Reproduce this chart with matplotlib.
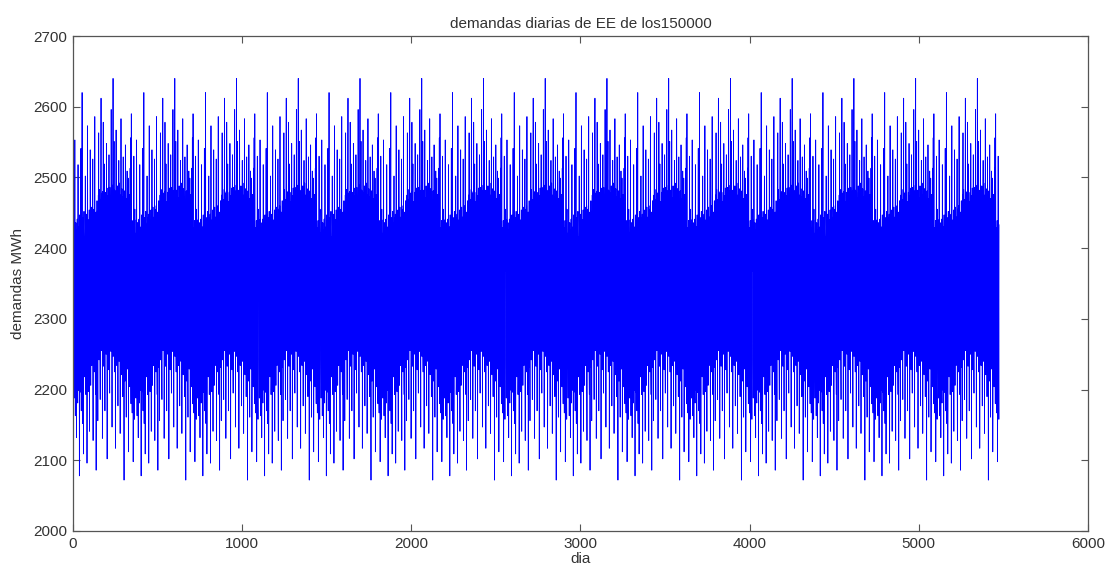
import numpy as np
import matplotlib
matplotlib.use("Agg")
import matplotlib.pyplot as plt

plt.rcParams["font.family"] = ["Liberation Sans", "DejaVu Sans"]

# One year of daily demand (MWh), one row per week (Mon..Sun), the last entry is day 365
year_profile = [
    2455, 2392, 2421, 2368, 2410, 2243, 2188,
    2398, 2440, 2375, 2553, 2417, 2219, 2163,
    2380, 2414, 2436, 2394, 2365, 2250, 2132,
    2426, 2370, 2405, 2441, 2388, 2207, 2181,
    2410, 2518, 2383, 2424, 2359, 2231, 2199,
    2391, 2430, 2078, 2413, 2447, 2196, 2214,
    2438, 2375, 2402, 2420, 2541, 2238, 2170,
    2386, 2421, 2367, 2434, 2620, 2212, 2152,
    2414, 2397, 2443, 2379, 2405, 2109, 2203,
    2429, 2452, 2390, 2416, 2371, 2246, 2218,
    2397, 2424, 2502, 2403, 2436, 2193, 2231,
    2443, 2385, 2412, 2448, 2396, 2096, 2223,
    2417, 2573, 2404, 2376, 2432, 2240, 2197,
    2389, 2440, 2426, 2407, 2454, 2253, 2141,
    2449, 2402, 2384, 2539, 2419, 2222, 2206,
    2411, 2435, 2458, 2394, 2378, 2234, 2240,
    2427, 2375, 2444, 2421, 2526, 2207, 2128,
    2403, 2455, 2392, 2439, 2413, 2249, 2225,
    2460, 2418, 2586, 2387, 2430, 2218, 2193,
    2435, 2406, 2451, 2086, 2424, 2260, 2231,
    2414, 2467, 2398, 2445, 2389, 2225, 2156,
    2452, 2429, 2475, 2408, 2563, 2267, 2242,
    2438, 2483, 2420, 2464, 2436, 2238, 2186,
    2469, 2415, 2456, 2492, 2612, 2255, 2260,
    2424, 2461, 2443, 2478, 2432, 2131, 2238,
    2480, 2449, 2425, 2578, 2467, 2273, 2233,
    2445, 2474, 2519, 2433, 2458, 2247, 2170,
    2466, 2428, 2463, 2447, 2479, 2258, 2250,
    2433, 2548, 2450, 2472, 2439, 2102, 2245,
    2474, 2453, 2436, 2485, 2460, 2265, 2228,
    2449, 2478, 2532, 2441, 2470, 2241, 2195,
    2486, 2445, 2464, 2456, 2432, 2270, 2254,
    2458, 2596, 2438, 2481, 2451, 2232, 2147,
    2442, 2476, 2463, 2489, 2454, 2640, 2247,
    2471, 2439, 2458, 2434, 2551, 2263, 2225,
    2447, 2482, 2455, 2470, 2443, 2117, 2256,
    2479, 2450, 2567, 2437, 2465, 2245, 2234,
    2453, 2471, 2434, 2488, 2456, 2268, 2177,
    2466, 2435, 2480, 2449, 2524, 2250, 2240,
    2440, 2492, 2453, 2467, 2428, 2138, 2259,
    2475, 2446, 2461, 2583, 2449, 2237, 2221,
    2448, 2484, 2439, 2455, 2473, 2272, 2190,
    2462, 2429, 2529, 2443, 2468, 2243, 2233,
    2072, 2460, 2447, 2481, 2435, 2256, 2212,
    2456, 2546, 2438, 2464, 2451, 2228, 2161,
    2470, 2441, 2465, 2432, 2509, 2248, 2229,
    2444, 2467, 2448, 2499, 2440, 2112, 2218,
    2459, 2434, 2476, 2445, 2458, 2237, 2204,
    2437, 2513, 2451, 2436, 2556, 2225, 2180,
    2415, 2590, 2393, 2426, 2402, 2200, 2167,
    2429, 2386, 2414, 2439, 2375, 2098, 2184,
    2398, 2423, 2530, 2390, 2417, 2211, 2158,
    2433,
]
n_years = 15

x_ticks = [0, 1000, 2000, 3000, 4000, 5000, 6000]
y_ticks = [2000, 2100, 2200, 2300, 2400, 2500, 2600, 2700]

# the same yearly profile repeats over the whole period
demand = np.tile(np.array(year_profile, dtype=float), n_years)
days = np.arange(1, len(demand) + 1)

fig = plt.figure(figsize=(11.14, 5.67), dpi=100)
ax = fig.add_axes([0.0655, 0.0635, 0.911, 0.873])

ax.plot(days, demand, color=(0, 0, 1), linewidth=0.6)

ax.set_xlim(0, 6000)
ax.set_ylim(2000, 2700)
ax.set_xticks(x_ticks)
ax.set_yticks(y_ticks)

ax.tick_params(direction="in", top=True, right=True, length=5, width=0.8,
               color="#555555", labelcolor="#333333", labelsize=11, pad=4)
for side in ax.spines.values():
    side.set_color("#555555")
    side.set_linewidth(0.9)

ax.set_title("demandas diarias de EE de los150000", fontsize=11, color="#333333", pad=6)
ax.set_xlabel("dia", fontsize=11, color="#333333", labelpad=1)
ax.set_ylabel("demandas MWh", fontsize=11, color="#333333", labelpad=6)

plt.savefig("out.png", dpi=100)
